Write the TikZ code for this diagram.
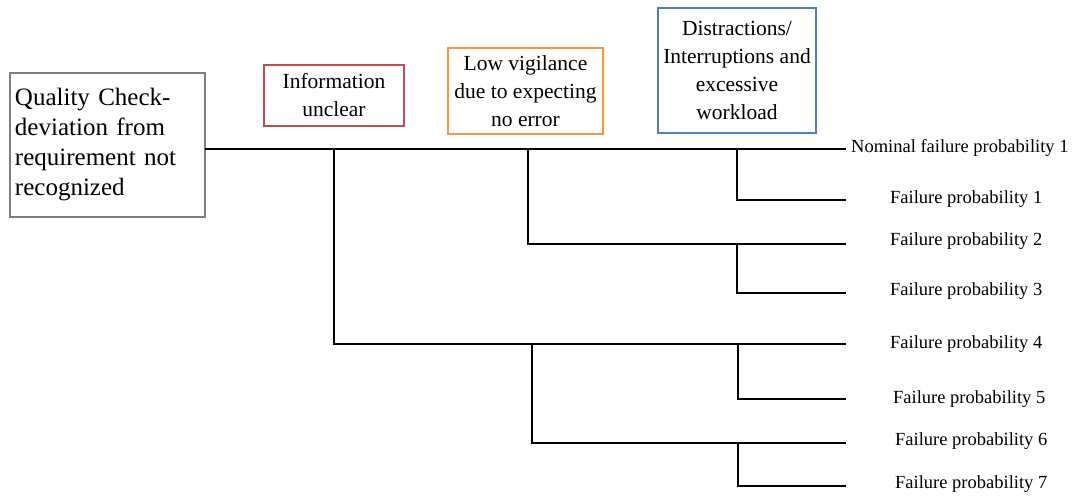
\documentclass[tikz,border=0pt]{standalone}
\usepackage{fontspec}
\setmainfont{Liberation Serif}
\usetikzlibrary{positioning}

\definecolor{boxred}{HTML}{C0504D}
\definecolor{boxorange}{HTML}{F79646}
\definecolor{boxblue}{HTML}{4F81BD}

\tikzset{
  task/.style={draw=gray, line width=1.2pt, inner sep=5pt, align=left,
    minimum width=195pt, minimum height=144pt, text width=185pt,
    font=\fontsize{25}{30}\selectfont},
  factor/.style={draw=#1, line width=1.5pt, inner sep=0pt, align=center,
    font=\fontsize{21.5}{28}\selectfont},
  outcome/.style={anchor=base west, inner sep=0pt, font=\fontsize{18.5}{22}\selectfont},
  branch/.style={line width=2pt}
}

\begin{document}
\begin{tikzpicture}[x=1pt, y=-1pt]
    \useasboundingbox (0,0) rectangle (1077,496);

    \node[task] (qc) at (107.5,145) {Quality Check-\\deviation from\\requirement not\\recognized};
    \node[factor=boxred, minimum width=140pt, minimum height=61pt] (info) at (334,95.5) {Information\\unclear};
    \node[factor=boxorange, minimum width=155pt, minimum height=86pt] (vig) at (525.5,91) {Low vigilance\\due to expecting\\no error};
    \node[factor=boxblue, minimum width=158pt, minimum height=125pt] (dist) at (737,70.5) {Distractions/\\Interruptions and\\excessive\\workload};

    % tree points
    \coordinate (r) at (205,149);
    \coordinate (e0) at (846,149);
    \coordinate (a) at (334,149);   \coordinate (a4) at (334,344);  \coordinate (e4) at (846,344);
    \coordinate (b) at (528,149);   \coordinate (b2) at (528,244);  \coordinate (e2) at (846,244);
    \coordinate (c) at (737,149);   \coordinate (c1) at (737,200);  \coordinate (e1) at (846,200);
    \coordinate (d) at (737,244);   \coordinate (d3) at (737,293);  \coordinate (e3) at (846,293);
    \coordinate (f) at (532,344);   \coordinate (f6) at (532,443);  \coordinate (e6) at (846,443);
    \coordinate (g) at (738,344);   \coordinate (g5) at (738,399);  \coordinate (e5) at (846,399);
    \coordinate (h) at (738,443);   \coordinate (h7) at (738,486);  \coordinate (e7) at (846,486);

    \draw[branch] (r) -- (e0);
    \draw[branch] (a) -- (a4) -- (e4);
    \draw[branch] (b) -- (b2) -- (e2);
    \draw[branch] (c) -- (c1) -- (e1);
    \draw[branch] (d) -- (d3) -- (e3);
    \draw[branch] (f) -- (f6) -- (e6);
    \draw[branch] (g) -- (g5) -- (e5);
    \draw[branch] (h) -- (h7) -- (e7);

    \node[outcome] (p0) at (851,152) {Nominal failure probability 1};
    \node[outcome] (p1) at (890,203) {Failure probability 1};
    \node[outcome] (p2) at (890,245) {Failure probability 2};
    \node[outcome] (p3) at (890,295) {Failure probability 3};
    \node[outcome] (p4) at (890,348) {Failure probability 4};
    \node[outcome] (p5) at (893,403) {Failure probability 5};
    \node[outcome] (p6) at (895,445) {Failure probability 6};
    \node[outcome] (p7) at (895,488) {Failure probability 7};
\end{tikzpicture}
\end{document}
